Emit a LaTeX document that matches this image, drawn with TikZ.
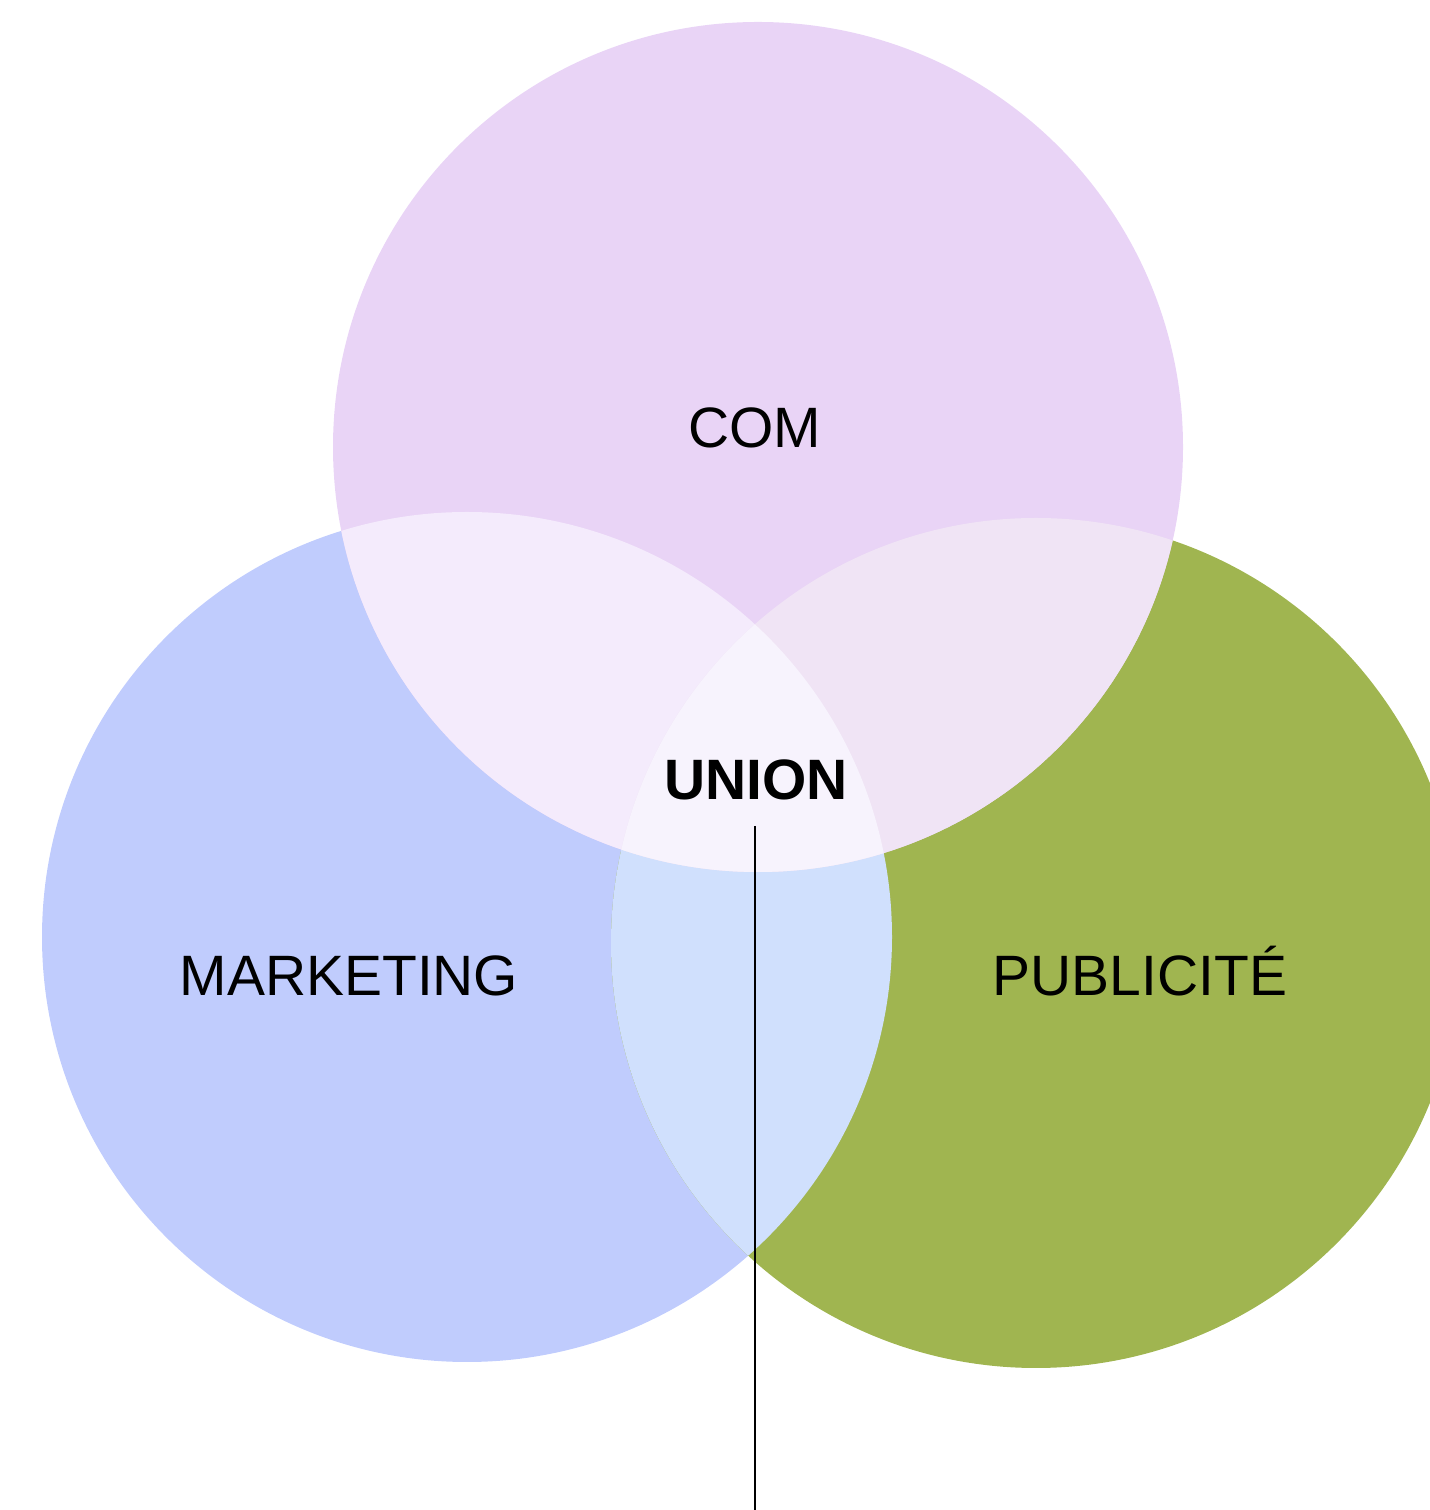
\documentclass[tikz,border=0pt]{standalone}
\usepackage{fontspec}
\setmainfont{Liberation Sans}
\definecolor{comfill}{HTML}{E9D4F6}
\definecolor{mktfill}{HTML}{C0CCFD}
\definecolor{pubfill}{HTML}{A0B550}
\definecolor{commkt}{HTML}{F4EBFC}
\definecolor{compub}{HTML}{F0E4F5}
\definecolor{mktpub}{HTML}{D0E0FD}
\definecolor{allthree}{HTML}{F7F3FD}
\begin{document}
\begin{tikzpicture}
            \tikzstyle{set}=[circle,minimum size=8.5cm,inner sep=0pt]
            \tikzstyle{setlabel}=[anchor=base,font=\fontsize{16.2}{19}\selectfont]
            \useasboundingbox (0,0) rectangle (14.3,15.1);
            % the three sets
            \node[set,fill=mktfill] (mkt) at (4.67,5.73) {};
            \node[set,fill=pubfill] (pub) at (10.36,5.67) {};
            \node[set,fill=comfill] (com) at (7.58,10.63) {};
            % overlaps
            \begin{scope}
                \clip (mkt.center) circle (4.25);
                \fill[mktpub] (pub.center) circle (4.25);
            \end{scope}
            \begin{scope}
                \clip (com.center) circle (4.25);
                \fill[commkt] (mkt.center) circle (4.25);
                \fill[compub] (pub.center) circle (4.25);
                \clip (mkt.center) circle (4.25);
                \fill[allthree] (pub.center) circle (4.25);
            \end{scope}
            % labels
            \node[setlabel] (comlabel) at (7.55,10.62) {COM};
            \node[setlabel] (mktlabel) at (3.49,5.14) {MARKETING};
            \node[setlabel] (publabel) at (11.40,5.14) {PUBLICITÉ};
            \node[setlabel,font=\fontsize{16.2}{19}\selectfont\bfseries] (union) at (7.56,7.10) {UNION};
            % pointer
            \coordinate (tip) at (7.55,6.84);
            \coordinate (foot) at (7.55,0);
            \draw[line width=0.02cm] (tip) -- (foot);
\end{tikzpicture}
\end{document}
